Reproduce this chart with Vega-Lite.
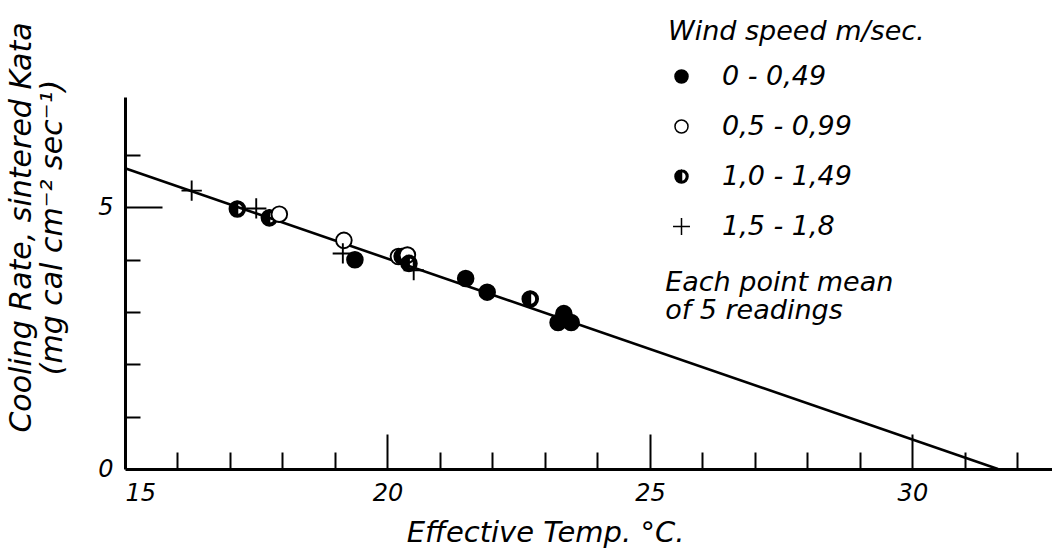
{
  "$schema": "https://vega.github.io/schema/vega-lite/v6.json",
  "width": 927,
  "height": 372,
  "autosize": {"type": "none"},
  "padding": {"left": 125, "top": 97, "right": 0, "bottom": 87},
  "background": "white",
  "config": {
    "view": {"stroke": null},
    "font": "DejaVu Sans",
    "axis": {
      "grid": false,
      "domainColor": "black",
      "tickColor": "black",
      "labelColor": "black",
      "titleColor": "black",
      "labelFontStyle": "italic",
      "titleFontStyle": "italic",
      "titleFontWeight": "normal",
      "tickWidth": 2
    }
  },
  "layer": [
    {
      "data": {"values": [{"temp": 15, "rate": 5.75}, {"temp": 31.63, "rate": 0}]},
      "mark": {"type": "line", "color": "black", "strokeWidth": 2.6},
      "encoding": {
        "x": {"field": "temp", "type": "quantitative", "scale": {"domain": [15, 32.66], "nice": false},
          "axis": {"orient": "bottom", "values": [20, 25, 30], "tickSize": -35, "labels": false, "domain": false, "title": null}},
        "y": {"field": "rate", "type": "quantitative", "scale": {"domain": [0, 7.11], "nice": false},
          "axis": {"orient": "left", "values": [5], "tickSize": -37, "labels": false, "domain": false, "title": null}}
      }
    },
    {
      "data": {"values": [
        {"temp": 16.27, "rate": 5.32, "wind": "1,5 - 1,8"},
        {"temp": 17.14, "rate": 4.97, "wind": "1,0 - 1,49"},
        {"temp": 17.50, "rate": 4.98, "wind": "1,5 - 1,8"},
        {"temp": 17.75, "rate": 4.80, "wind": "1,0 - 1,49"},
        {"temp": 17.94, "rate": 4.87, "wind": "0,5 - 0,99"},
        {"temp": 19.17, "rate": 4.37, "wind": "0,5 - 0,99"},
        {"temp": 19.15, "rate": 4.12, "wind": "1,5 - 1,8"},
        {"temp": 19.38, "rate": 4.00, "wind": "0 - 0,49"},
        {"temp": 20.21, "rate": 4.06, "wind": "0,5 - 0,99"},
        {"temp": 20.28, "rate": 4.06, "wind": "1,0 - 1,49"},
        {"temp": 20.38, "rate": 4.09, "wind": "0,5 - 0,99"},
        {"temp": 20.41, "rate": 3.93, "wind": "1,0 - 1,49"},
        {"temp": 20.50, "rate": 3.80, "wind": "1,5 - 1,8"},
        {"temp": 21.49, "rate": 3.64, "wind": "0 - 0,49"},
        {"temp": 21.90, "rate": 3.38, "wind": "0 - 0,49"},
        {"temp": 22.72, "rate": 3.25, "wind": "1,0 - 1,49"},
        {"temp": 23.36, "rate": 2.97, "wind": "0 - 0,49"},
        {"temp": 23.25, "rate": 2.80, "wind": "0 - 0,49"},
        {"temp": 23.50, "rate": 2.80, "wind": "0 - 0,49"}
      ]},
      "mark": {"type": "point", "filled": true, "stroke": "black", "strokeWidth": 1.9, "opacity": 1, "size": 245},
      "encoding": {
        "x": {"field": "temp", "type": "quantitative",
          "axis": {"orient": "bottom", "values": [16, 17, 18, 19, 21, 22, 23, 24, 26, 27, 28, 29, 31, 32], "tickSize": -17, "labels": false, "domain": false, "title": null}},
        "y": {"field": "rate", "type": "quantitative",
          "axis": {"orient": "left", "values": [1, 2, 3, 4, 6], "tickSize": -15, "labels": false, "domain": false, "title": null}},
        "shape": {"field": "wind", "type": "nominal",
          "scale": {"domain": ["0 - 0,49", "0,5 - 0,99", "1,0 - 1,49", "1,5 - 1,8"],
            "range": ["circle", "circle", "M0,-1A1,1,0,0,0,0,1ZM0,-1A1,1,0,0,1,0,1L0,0.75A0.75,0.75,0,0,0,0,-0.75Z", "M-1.3,0H1.3M0,-1.3V1.3"]},
          "legend": {"orient": "none", "legendX": 543, "legendY": -78, "title": "Wind speed m/sec.",
            "titleFontSize": 27, "titleFontStyle": "italic", "titleFontWeight": "normal", "titleColor": "black", "titlePadding": 17, "titleLimit": 400,
            "labelFontSize": 27, "labelFontStyle": "italic", "labelColor": "black", "labelLimit": 300, "labelOffset": 27,
            "symbolSize": 170, "rowPadding": 22,
            "encode": {"symbols": {"update": {"stroke": {"value": "black"}, "strokeWidth": {"value": 1.7}}}}}},
        "fill": {"field": "wind", "type": "nominal",
          "scale": {"domain": ["0 - 0,49", "0,5 - 0,99", "1,0 - 1,49", "1,5 - 1,8"], "range": ["black", "white", "black", "black"]},
          "legend": {"orient": "none", "legendX": 543, "legendY": -78, "title": "Wind speed m/sec."}}
      }
    },
    {
      "data": {"values": [{"temp": 25.29, "rate": 3.80, "note": "Each point mean\nof 5 readings"}]},
      "mark": {"type": "text", "align": "left", "baseline": "top", "fontSize": 27, "fontStyle": "italic", "lineBreak": "\n", "lineHeight": 28, "color": "black"},
      "encoding": {
        "x": {"field": "temp", "type": "quantitative",
          "axis": {"orient": "bottom", "values": [15, 20, 25, 30], "ticks": false, "domainWidth": 3, "labelFontSize": 24, "labelPadding": 12,
            "title": "Effective Temp. °C.", "titleFontSize": 29, "titleX": 420, "titleY": 72, "titleBaseline": "alphabetic"}},
        "y": {"field": "rate", "type": "quantitative",
          "axis": {"orient": "left", "values": [0, 5], "ticks": false, "domainWidth": 3, "labelFontSize": 24, "labelPadding": 12,
            "title": ["Cooling Rate, sintered Kata", "(mg cal cm⁻² sec⁻¹)"], "titleFontSize": 30, "titleLineHeight": 31,
            "titleX": -119, "titleY": 130, "titleAngle": -90, "titleBaseline": "top", "titleAlign": "center"}},
        "text": {"field": "note"}
      }
    }
  ],
  "resolve": {"axis": {"x": "independent", "y": "independent"}}
}
